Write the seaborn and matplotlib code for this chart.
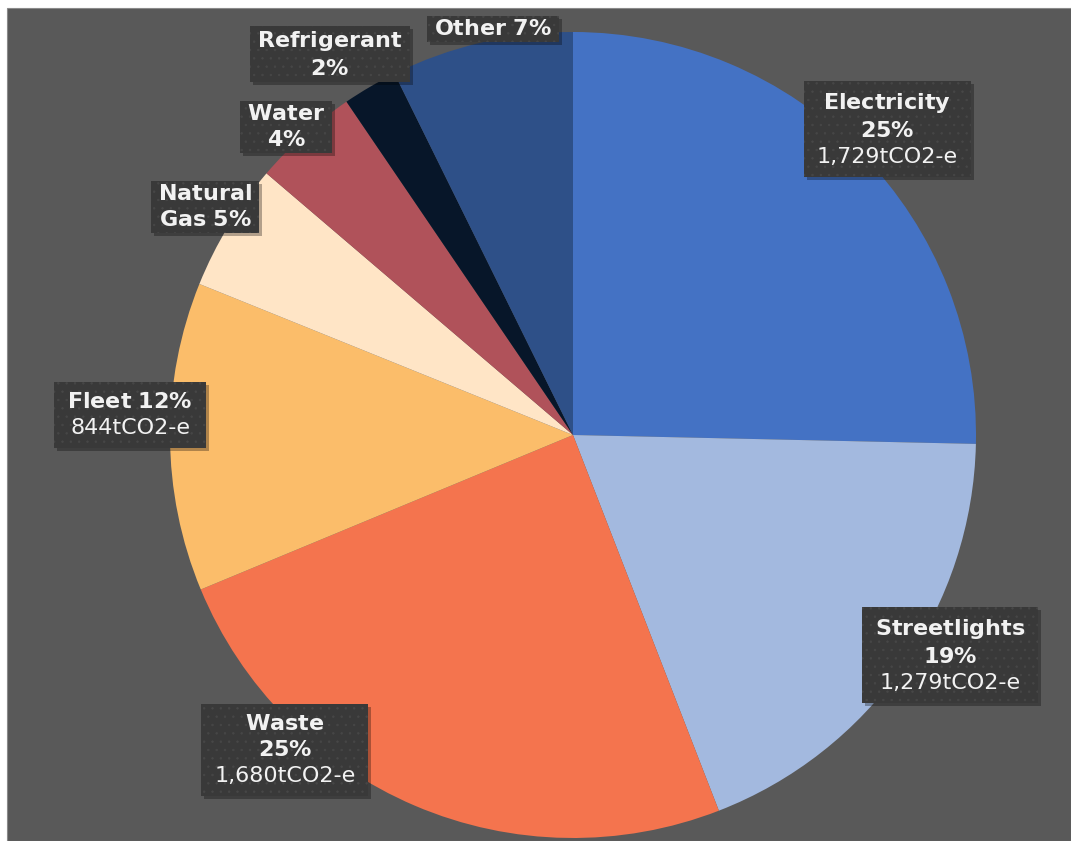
import matplotlib
matplotlib.use("Agg")
import matplotlib.pyplot as plt
from matplotlib.patches import Rectangle
import seaborn as sns

# --- Data ---
categories = ["Electricity", "Streetlights", "Waste", "Fleet",
              "Natural Gas", "Water", "Refrigerant", "Other"]
emissions = [1729, 1279, 1680, 844, 350, 290, 150, 498]  # tCO2-e
show_amount = [True, True, True, True, False, False, False, False]
colors = ["#4472C4", "#A3B9DF", "#F4744E", "#FBBD6A",
          "#FFE5C6", "#B0525A", "#071629", "#2E5088"]

# label text layout (how the names wrap) and label box centres (data units, pie radius = 1)
name_lines = [["Electricity", "{p}%"], ["Streetlights", "{p}%"], ["Waste", "{p}%"],
              ["Fleet {p}%"], ["Natural", "Gas {p}%"], ["Water", "{p}%"],
              ["Refrigerant", "{p}%"], ["Other {p}%"]]
label_pos = [(0.780, 0.759), (0.935, -0.546), (-0.715, -0.782), (-1.099, 0.050),
             (-0.913, 0.566), (-0.712, 0.764), (-0.603, 0.945), (-0.199, 1.007)]

# --- Style ---
sns.set_theme(style="white")
plt.rcParams["font.family"] = ["DejaVu Sans"]
plt.rcParams["mathtext.fontset"] = "dejavusans"
plt.rcParams["hatch.linewidth"] = 0.5

W, H = 1071, 841
fig = plt.figure(figsize=(W / 100, H / 100), dpi=100, facecolor="white")

# dark chart area (small white margin on top and left)
fig.add_artist(Rectangle((7 / W, 0), 1 - 7 / W, 1 - 8 / H, transform=fig.transFigure,
                         facecolor="#595959", edgecolor="#8a8a8a", linewidth=0.8, zorder=0))

ax = fig.add_axes([7 / W, 0, 1 - 7 / W, 1 - 8 / H])
ax.pie(emissions, colors=colors, startangle=90, counterclock=False, radius=1,
       wedgeprops=dict(linewidth=0))
ax.set_aspect("auto")
ax.set_xlim((7 - 573) / 403, (1071 - 573) / 403)
ax.set_ylim((435 - 841) / 403, (435 - 8) / 403)
ax.axis("off")


def bold_line(s):
    s = s.replace(" ", r"\ ").replace("%", r"\%")
    return r"$\bf{" + s + "}$"


FS = 16
total = sum(emissions)
texts = []
for cat, val, amt, lines, (lx, ly) in zip(categories, emissions, show_amount,
                                          name_lines, label_pos):
    pct = round(val / total * 100)
    shown = [bold_line(ln.format(p=pct)) for ln in lines]
    if amt:
        shown.append(f"{val:,}tCO2-e")
    t = ax.text(lx, ly, "\n".join(shown), ha="center", va="center", fontsize=FS,
                linespacing=1.38, color="#F2F2F2", zorder=6)
    texts.append(t)

# label boxes sized from the rendered text
fig.canvas.draw()
renderer = fig.canvas.get_renderer()
inv = ax.transData.inverted()
for t, amt in zip(texts, show_amount):
    padx, pady = (13, 10) if amt else (7, 3)
    bb = t.get_window_extent(renderer)
    (x0, y0) = inv.transform((bb.x0 - padx, bb.y0 - pady))
    (x1, y1) = inv.transform((bb.x1 + padx, bb.y1 + pady))
    (dx, dy) = inv.transform((3, -3)) - inv.transform((0, 0))
    ax.add_patch(Rectangle((x0 + dx, y0 + dy), x1 - x0, y1 - y0, facecolor="black",
                           alpha=0.3, linewidth=0, zorder=4))
    ax.add_patch(Rectangle((x0, y0), x1 - x0, y1 - y0, facecolor="#393939",
                           edgecolor="#474747", linewidth=0, hatch="..", zorder=5))

fig.savefig("out.png", dpi=100, facecolor="white")
